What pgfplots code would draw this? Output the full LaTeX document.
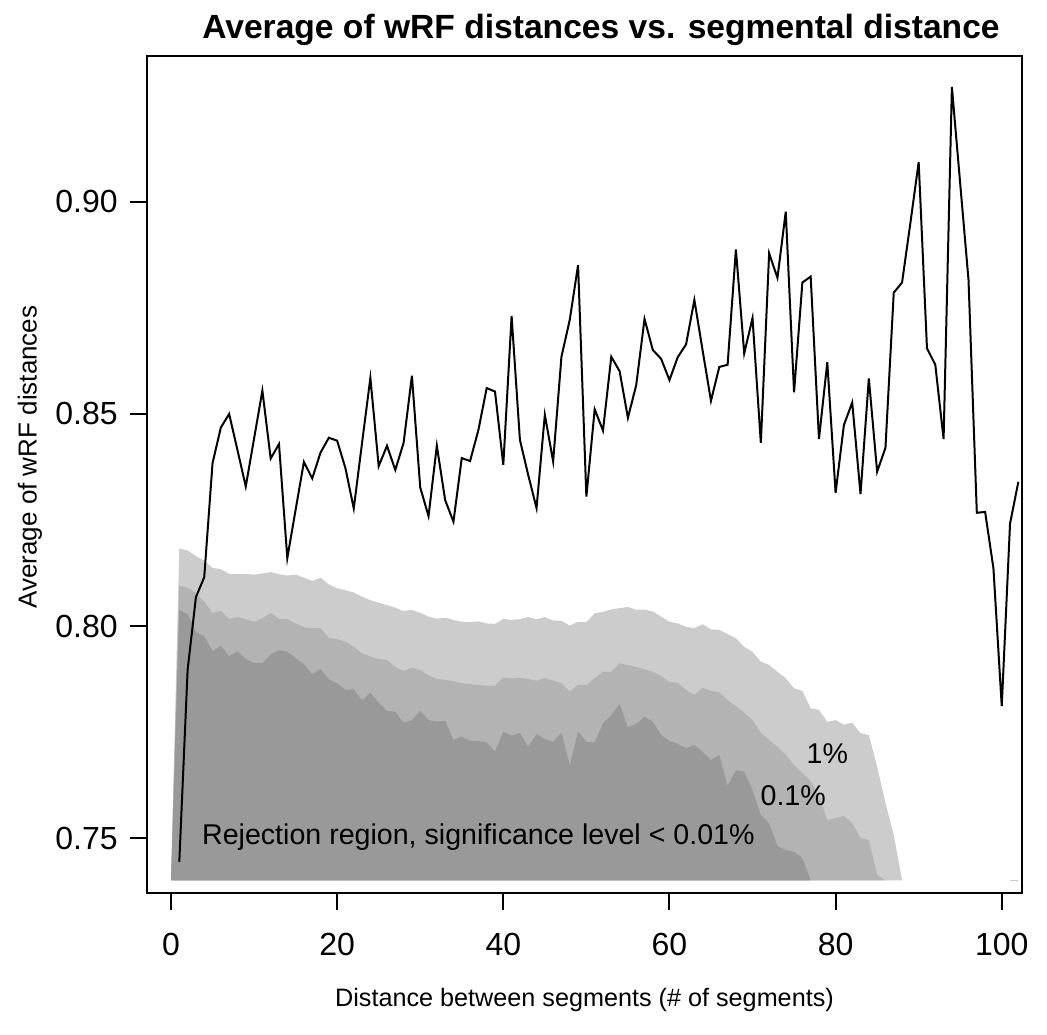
\documentclass[border=0pt]{standalone}
\usepackage{pgfplots}
\pgfplotsset{compat=1.18}
\usepackage{fontspec}
\setmainfont{Liberation Sans}
\definecolor{gLight}{HTML}{CCCCCC}
\definecolor{gMed}{HTML}{B3B3B3}
\definecolor{gDark}{HTML}{999999}
\begin{document}
\begin{tikzpicture}[x=1pt,y=1pt]
\path[use as bounding box] (0,0) rectangle (523.5,517);
\begin{axis}[
  at={(73.5pt,70.65pt)}, anchor=south west, scale only axis,
  width=437.5pt, height=418.3pt,
  xmin=-2.889, xmax=102.44, ymin=0.7371, ymax=0.9344,
  axis line style={line width=1pt},
  every tick/.style={black, line width=1pt},
  tick align=outside, major tick length=8.5pt,
  xtick pos=bottom, ytick pos=left,
  xtick={0,20,40,60,80,100},
  ytick={0.75,0.8,0.85,0.9},
  yticklabels={0.75,0.80,0.85,0.90},
  /pgf/number format/assume math mode=true,
  tick label style={font=\fontsize{16}{18}\selectfont, inner sep=0pt},
  xticklabel style={anchor=north, yshift=-11.5pt},
  yticklabel style={anchor=east, xshift=-6pt},
  clip=true,
]
\addplot[fill=gLight, draw=none] coordinates {
(0,0.74) (1,0.8183) (2,0.8178) (3,0.8165) (4,0.8154) (5,0.8137) (6,0.8134) (7,0.8123) (8,0.8122) (9,0.8123)
(10,0.8121) (11,0.8124) (12,0.8127) (13,0.8122) (14,0.8119) (15,0.8121) (16,0.8114) (17,0.8106) (18,0.8114) (19,0.8098)
(20,0.8089) (21,0.8084) (22,0.8079) (23,0.8069) (24,0.8061) (25,0.8055) (26,0.8049) (27,0.8043) (28,0.8035) (29,0.8038)
(30,0.8031) (31,0.8022) (32,0.8017) (33,0.8020) (34,0.8014) (35,0.8010) (36,0.8009) (37,0.8011) (38,0.8006) (39,0.8005)
(40,0.8017) (41,0.8014) (42,0.8016) (43,0.8021) (44,0.8016) (45,0.8021) (46,0.8013) (47,0.8012) (48,0.8001) (49,0.8010)
(50,0.8009) (51,0.8030) (52,0.8033) (53,0.8039) (54,0.8042) (55,0.8045) (56,0.8038) (57,0.8039) (58,0.8034) (59,0.8022)
(60,0.8010) (61,0.8006) (62,0.7998) (63,0.7995) (64,0.8004) (65,0.7992) (66,0.7991) (67,0.7981) (68,0.7971) (69,0.7951)
(70,0.7939) (71,0.7916) (72,0.7908) (73,0.7892) (74,0.7877) (75,0.7853) (76,0.7847) (77,0.7806) (78,0.7802) (79,0.7774)
(80,0.7778) (81,0.7767) (82,0.7772) (83,0.7747) (84,0.7743) (85,0.7668) (86,0.7583) (87,0.7507) (88,0.7400)
};
\addplot[fill=gMed, draw=none] coordinates {
(0,0.74) (1,0.8095) (2,0.8090) (3,0.8077) (4,0.8057) (5,0.8031) (6,0.8036) (7,0.8016) (8,0.8021) (9,0.8016)
(10,0.8010) (11,0.8018) (12,0.8031) (13,0.8017) (14,0.8016) (15,0.8006) (16,0.7997) (17,0.7995) (18,0.7995) (19,0.7972)
(20,0.7969) (21,0.7963) (22,0.7951) (23,0.7936) (24,0.7928) (25,0.7922) (26,0.7920) (27,0.7903) (28,0.7894) (29,0.7902)
(30,0.7896) (31,0.7884) (32,0.7875) (33,0.7873) (34,0.7870) (35,0.7865) (36,0.7863) (37,0.7861) (38,0.7859) (39,0.7859)
(40,0.7879) (41,0.7876) (42,0.7878) (43,0.7875) (44,0.7871) (45,0.7877) (46,0.7871) (47,0.7865) (48,0.7845) (49,0.7861)
(50,0.7861) (51,0.7877) (52,0.7892) (53,0.7892) (54,0.7912) (55,0.7908) (56,0.7903) (57,0.7898) (58,0.7892) (59,0.7882)
(60,0.7868) (61,0.7866) (62,0.7849) (63,0.7837) (64,0.7854) (65,0.7847) (66,0.7844) (67,0.7825) (68,0.7811) (69,0.7795)
(70,0.7778) (71,0.7748) (72,0.7731) (73,0.7715) (74,0.7696) (75,0.7672) (76,0.7653) (77,0.7634) (78,0.7601) (79,0.7542)
(80,0.7547) (81,0.7552) (82,0.7535) (83,0.7500) (84,0.7495) (85,0.7413) (86,0.7400)
};
\addplot[fill=gDark, draw=none] coordinates {
(0,0.74) (1,0.8038) (2,0.8028) (3,0.7986) (4,0.7975) (5,0.7941) (6,0.7953) (7,0.7929) (8,0.7940) (9,0.7922)
(10,0.7913) (11,0.7912) (12,0.7933) (13,0.7943) (14,0.7939) (15,0.7924) (16,0.7910) (17,0.7886) (18,0.7899) (19,0.7874)
(20,0.7865) (21,0.7849) (22,0.7851) (23,0.7824) (24,0.7843) (25,0.7819) (26,0.7800) (27,0.7798) (28,0.7772) (29,0.7778)
(30,0.7800) (31,0.7778) (32,0.7775) (33,0.7776) (34,0.7731) (35,0.7739) (36,0.7729) (37,0.7729) (38,0.7725) (39,0.7704)
(40,0.7751) (41,0.7741) (42,0.7748) (43,0.7715) (44,0.7745) (45,0.7733) (46,0.7727) (47,0.7748) (48,0.7672) (49,0.7751)
(50,0.7727) (51,0.7725) (52,0.7771) (53,0.7790) (54,0.7816) (55,0.7761) (56,0.7769) (57,0.7786) (58,0.7774) (59,0.7743)
(60,0.7729) (61,0.7722) (62,0.7712) (63,0.7719) (64,0.7703) (65,0.7684) (66,0.7696) (67,0.7623) (68,0.7660) (69,0.7656)
(70,0.7613) (71,0.7554) (72,0.7535) (73,0.7481) (74,0.7472) (75,0.7467) (76,0.7453) (77,0.7400)
};
\addplot[gLight, line width=0.5pt] coordinates {(101,0.7400) (102,0.7400)};
\addplot[black, line width=1pt] coordinates {
(1,0.7444) (2,0.7896) (3,0.8068) (4,0.8115) (5,0.8384) (6,0.8468) (7,0.8500) (8,0.8415) (9,0.8329) (10,0.8442)
(11,0.8555) (12,0.8395) (13,0.8429) (14,0.8160) (15,0.8274) (16,0.8387) (17,0.8348) (18,0.8409) (19,0.8444) (20,0.8437)
(21,0.8372) (22,0.8277) (23,0.8432) (24,0.8585) (25,0.8377) (26,0.8425) (27,0.8368) (28,0.8432) (29,0.8590) (30,0.8327)
(31,0.8259) (32,0.8425) (33,0.8297) (34,0.8246) (35,0.8396) (36,0.8389) (37,0.8462) (38,0.8561) (39,0.8553) (40,0.8380)
(41,0.8731) (42,0.8439) (43,0.8356) (44,0.8278) (45,0.8498) (46,0.8388) (47,0.8635) (48,0.8722) (49,0.8851) (50,0.8305)
(51,0.8511) (52,0.8461) (53,0.8635) (54,0.8601) (55,0.8491) (56,0.8568) (57,0.8724) (58,0.8651) (59,0.8630) (60,0.8580)
(61,0.8634) (62,0.8664) (63,0.8769) (64,0.8649) (65,0.8531) (66,0.8611) (67,0.8616) (68,0.8888) (69,0.8643) (70,0.8726)
(71,0.8432) (72,0.8879) (73,0.8821) (74,0.8977) (75,0.8551) (76,0.8810) (77,0.8824) (78,0.8441) (79,0.8622) (80,0.8314)
(81,0.8474) (82,0.8527) (83,0.8311) (84,0.8584) (85,0.8364) (86,0.8420) (87,0.8786) (88,0.8810) (89,0.8950) (90,0.9094)
(91,0.8655) (92,0.8616) (93,0.8441) (94,0.9271) (95,0.9043) (96,0.8816) (97,0.8267) (98,0.8269) (99,0.8136) (100,0.7811)
(101,0.8242) (102,0.8340)
};
\node[font=\fontsize{14.3}{16}\selectfont] at (axis cs:37.0,0.7503) {Rejection region, significance level < 0.01\%};
\node[font=\fontsize{14.3}{16}\selectfont] at (axis cs:79.0,0.7700) {1\%};
\node[font=\fontsize{14.3}{16}\selectfont] at (axis cs:74.9,0.7599) {0.1\%};
\end{axis}
\node[font=\bfseries\fontsize{16.8}{20}\selectfont] at (300.5,502) {Average of wRF distances vs. segmental distance};
\node[font=\fontsize{12.6}{15}\selectfont] at (292.25,17) {Distance between segments (\# of segments)};
\node[font=\fontsize{13}{15}\selectfont, rotate=90] at (15,288.5) {Average of wRF distances};
\end{tikzpicture}
\end{document}
